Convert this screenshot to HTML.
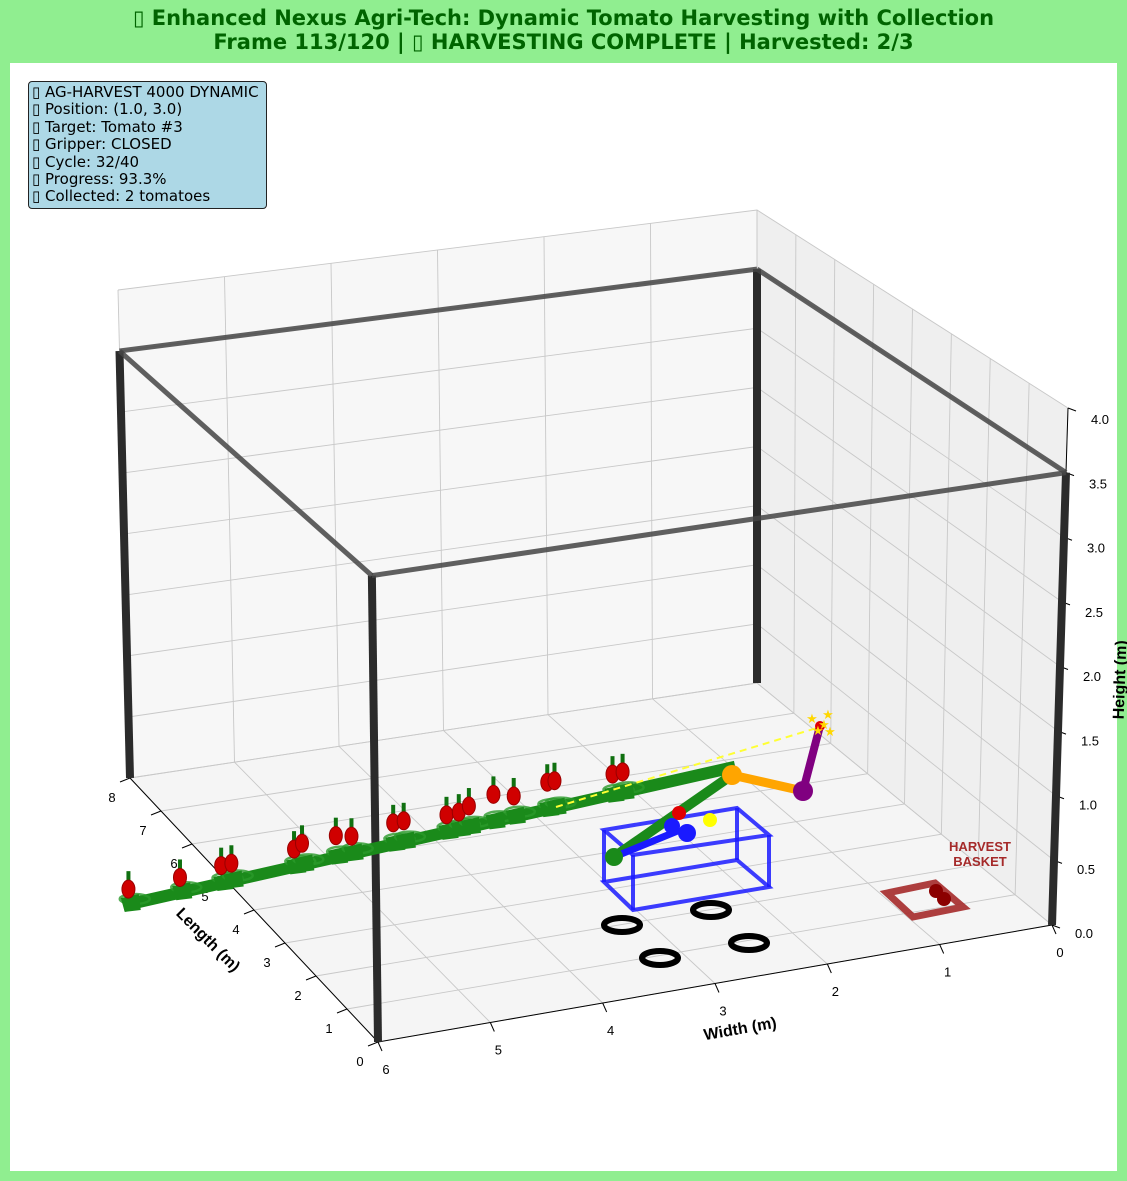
<!DOCTYPE html>
<html><head><meta charset="utf-8"><style>
html,body{margin:0;padding:0;background:#90ee90;}
body{width:1127px;height:1181px;position:relative;overflow:hidden;font-family:"Liberation Sans","DejaVu Sans",sans-serif;}
#title{position:absolute;left:0;top:6px;width:1127px;text-align:center;color:#006400;font-weight:bold;font-size:21px;line-height:24px;font-family:"DejaVu Sans","Liberation Sans",sans-serif;}
#plot{position:absolute;left:10px;top:63px;width:1107px;height:1108px;background:#fff;}
#info{position:absolute;left:28px;top:81px;width:239px;height:128px;background:#add8e6;border:1px solid #222;border-radius:4px;font-size:15px;line-height:17.4px;padding:2px 0 0 3px;box-sizing:border-box;font-family:"DejaVu Sans","Liberation Sans",sans-serif;color:#000;white-space:pre;}
svg{position:absolute;left:0;top:0;}
</style></head><body>
<div id="title">▯ Enhanced Nexus Agri-Tech: Dynamic Tomato Harvesting with Collection<br>Frame 113/120 | ▯ HARVESTING COMPLETE | Harvested: 2/3</div>
<div id="plot"></div>
<svg id="scene" width="1127" height="1181"></svg>
<div id="info">▯ AG-HARVEST 4000 DYNAMIC
▯ Position: (1.0, 3.0)
▯ Target: Tomato #3
▯ Gripper: CLOSED
▯ Cycle: 32/40
▯ Progress: 93.3%
▯ Collected: 2 tomatoes</div>
<script>
const widthTicks=[0,1,2,3,4,5,6];
const lengthTicks=[0,1,2,3,4,5,6,7,8];
const heightTicks=[0.0,0.5,1.0,1.5,2.0,2.5,3.0,3.5,4.0];
const tomatoWidth=[7.13,6.63,6.23,6.13,5.52,5.44,5.11,4.96,4.55,4.45,4.03,3.91,3.81,3.57,3.37,3.04,2.97,2.40,2.30];
const tomatoLength=[4.07,4.16,4.23,4.25,4.36,4.38,4.44,4.46,4.54,4.55,4.63,4.65,4.67,4.71,4.75,4.81,4.82,4.92,4.94];
const tomatoHeight=[0.3,0.3,0.32,0.32,0.32,0.35,0.35,0.32,0.35,0.35,0.32,0.32,0.35,0.4,0.35,0.4,0.4,0.35,0.35];
const frameHeight=3.5;
const rowWidth=[7.2,1.2];
const rowLen=[4.0,5.1];
const rowHeight=0.2;

const S=document.getElementById('scene');
const NS='http://www.w3.org/2000/svg';
function mk(tag,attrs,name){const e=document.createElementNS(NS,tag);for(const k in attrs)e.setAttribute(k,attrs[k]);


S.appendChild(e);return e;}
const C={'000':[1052,925],'001':[1068,408],'010':[757,683],'011':[757,210],'100':[378,1042],'101':[371,509],'110':[130,778],'111':[118,290]};
function lerp(a,b,t){return [a[0]+(b[0]-a[0])*t,a[1]+(b[1]-a[1])*t];}
function P(w,l,z){const a=w/6,b=l/8,c=z/4;
 const c00=lerp(C['000'],C['100'],a),c01=lerp(C['001'],C['101'],a),c10=lerp(C['010'],C['110'],a),c11=lerp(C['011'],C['111'],a);
 const d0=lerp(c00,c10,b),d1=lerp(c01,c11,b);return lerp(d0,d1,c);}
function pts(arr){return arr.map(p=>p.join(',')).join(' ');}
mk('polygon',{points:pts([P(6,8,0),P(0,8,0),P(0,8,4),P(6,8,4)]),fill:'#f7f7f7'},'back-pane');
mk('polygon',{points:pts([P(0,8,0),P(0,0,0),P(0,0,4),P(0,8,4)]),fill:'#efefef'},'side-pane');
mk('polygon',{points:pts([P(6,0,0),P(0,0,0),P(0,8,0),P(6,8,0)]),fill:'#f5f5f5'},'floor-pane');
const gs={stroke:'#c8c8c8','stroke-width':0.9};
widthTicks.forEach(w=>{let a=P(w,0,0),b=P(w,8,0),c=P(w,8,4);mk('polyline',Object.assign({points:pts([a,b,c]),fill:'none'},gs),'grid-line-width');});
lengthTicks.forEach(l=>{let a=P(6,l,0),b=P(0,l,0),c=P(0,l,4);mk('polyline',Object.assign({points:pts([a,b,c]),fill:'none'},gs),'grid-line-length');});
heightTicks.forEach(z=>{let a=P(6,8,z),b=P(0,8,z),c=P(0,0,z);mk('polyline',Object.assign({points:pts([a,b,c]),fill:'none'},gs),'grid-line-height');});
mk('line',{x1:P(6,0,0)[0],y1:P(6,0,0)[1],x2:P(0,0,0)[0],y2:P(0,0,0)[1],stroke:'#000','stroke-width':1},'width-axis-line');
mk('line',{x1:P(6,0,0)[0],y1:P(6,0,0)[1],x2:P(6,8,0)[0],y2:P(6,8,0)[1],stroke:'#000','stroke-width':1},'length-axis-line');
mk('line',{x1:P(0,0,0)[0],y1:P(0,0,0)[1],x2:P(0,0,4)[0],y2:P(0,0,4)[1],stroke:'#000','stroke-width':1},'height-axis-line');
widthTicks.forEach(w=>{const p=P(w,0,0);mk('line',{x1:p[0],y1:p[1],x2:p[0]+4,y2:p[1]+9,stroke:'#000','stroke-width':1},'width-tick');
 const t=mk('text',{x:p[0]+8,y:p[1]+32,'font-size':13,'text-anchor':'middle'},'width-tick-label');t.textContent=w;});
lengthTicks.forEach(l=>{const p=P(6,l,0);mk('line',{x1:p[0],y1:p[1],x2:p[0]-10,y2:p[1]+4,stroke:'#000','stroke-width':1},'length-tick');
 const t=mk('text',{x:p[0]-18,y:p[1]+24,'font-size':13,'text-anchor':'middle'},'length-tick-label');t.textContent=l;});
heightTicks.forEach(z=>{const p=P(0,0,z);mk('line',{x1:p[0],y1:p[1],x2:p[0]+8,y2:p[1]+3,stroke:'#000','stroke-width':1},'height-tick');
 const t=mk('text',{x:p[0]+32,y:933-z*128.5+5,'font-size':13,'text-anchor':'middle'},'height-tick-label');t.textContent=z.toFixed(1);});
let t;
t=mk('text',{x:740,y:1034,'font-size':16,'font-weight':'bold','text-anchor':'middle',transform:'rotate(-10 740 1028)'},'width-axis-title');t.textContent='Width (m)';
t=mk('text',{x:208,y:945,'font-size':16,'font-weight':'bold','text-anchor':'middle',transform:'rotate(45 208 940)'},'length-axis-title');t.textContent='Length (m)';
t=mk('text',{x:1125,y:680,'font-size':16,'font-weight':'bold','text-anchor':'middle',transform:'rotate(-88 1125 680)'},'height-axis-title');t.textContent='Height (m)';
const corners=[[6,8],[0,8],[0,0],[6,0]];
corners.forEach(c=>{const a=P(c[0],c[1],0),b=P(c[0],c[1],frameHeight);mk('line',{x1:a[0],y1:a[1],x2:b[0],y2:b[1],stroke:'#2b2b2b','stroke-width':8},'frame-pole');});
for(let i=0;i<4;i++){const c=corners[i],d=corners[(i+1)%4];const a=P(c[0],c[1],frameHeight),b=P(d[0],d[1],frameHeight);
 mk('line',{x1:a[0],y1:a[1],x2:b[0],y2:b[1],stroke:'#444','stroke-width':5,'stroke-opacity':0.85},'frame-beam');}
const r1=P(rowWidth[0],rowLen[0],rowHeight),r2=P(rowWidth[1],rowLen[1],rowHeight);
mk('line',{x1:r1[0],y1:r1[1],x2:r2[0],y2:r2[1],stroke:'#1a8a1a','stroke-width':12},'plant-row-stem');
tomatoWidth.forEach((w,i)=>{const p=P(w,tomatoLength[i],rowHeight);
 mk('ellipse',{cx:p[0]+6,cy:p[1]-3,rx:15,ry:5,fill:'none',stroke:'#2a9a2a','stroke-width':2.5,'stroke-opacity':0.8},'leaf-ring');
 mk('polygon',{points:pts([[p[0]-8,p[1]-4],[p[0]+10,p[1]-8],[p[0]+12,p[1]+8],[p[0]-4,p[1]+10]]),fill:'#1a8a1a'},'leaf');});
tomatoWidth.forEach((w,i)=>{const p=P(w,tomatoLength[i],tomatoHeight[i]);
 mk('rect',{x:p[0]-2,y:p[1]-18,width:4,height:11,fill:'#107010'},'tomato-stem');
 mk('ellipse',{cx:p[0],cy:p[1],rx:6.5,ry:9,fill:'#d00000',stroke:'#900','stroke-width':1},'tomato');});
mk('line',{x1:556,y1:807,x2:820,y2:727,stroke:'#ffff33','stroke-width':2,'stroke-dasharray':'7,5'},'target-laser');
mk('polygon',{points:'604,830 737,808 769,835 633,855',fill:'none',stroke:'#1a1aff','stroke-width':4,'stroke-opacity':0.85},'robot-chassis-top');
mk('polygon',{points:'604,882 737,860 769,887 633,910',fill:'none',stroke:'#1a1aff','stroke-width':4,'stroke-opacity':0.85},'robot-chassis-bottom');
[[604,830,604,882],[737,808,737,860],[769,835,769,887],[633,855,633,910]].forEach(s=>mk('line',{x1:s[0],y1:s[1],x2:s[2],y2:s[3],stroke:'#1a1aff','stroke-width':4,'stroke-opacity':0.85},'robot-chassis-post'));
[[622,925],[711,910],[660,958],[749,943]].forEach(c=>mk('ellipse',{cx:c[0],cy:c[1],rx:18,ry:7,fill:'none',stroke:'#000','stroke-width':6},'robot-wheel'));
mk('line',{x1:614,y1:857,x2:732,y2:775,stroke:'#1a8a1a','stroke-width':10},'robot-arm-base');
mk('line',{x1:614,y1:857,x2:680,y2:830,stroke:'#1a1aff','stroke-width':7},'robot-arm-link');
mk('circle',{cx:614,cy:857,r:9,fill:'#1a8a1a'},'robot-joint-base');
mk('circle',{cx:672,cy:826,r:8,fill:'#1a1aff'},'robot-joint');
mk('circle',{cx:687,cy:833,r:9,fill:'#1a1aff'},'robot-joint');
mk('circle',{cx:679,cy:813,r:7,fill:'#e00000'},'held-tomato');
mk('circle',{cx:710,cy:820,r:7,fill:'#ffff00'},'sensor-light');
mk('line',{x1:732,y1:775,x2:803,y2:791,stroke:'#ffa500','stroke-width':9},'robot-arm-upper');
mk('circle',{cx:732,cy:775,r:10,fill:'#ffa500'},'robot-joint-elbow');
mk('line',{x1:803,y1:791,x2:820,y2:726,stroke:'#800080','stroke-width':8},'robot-arm-gripper');
mk('circle',{cx:803,cy:791,r:10,fill:'#800080'},'robot-joint-wrist');
mk('circle',{cx:820,cy:726,r:5,fill:'#e00000'},'gripper-tomato');
[[812,718],[828,714],[818,730],[830,731],[824,724]].forEach(s=>{const e=mk('text',{x:s[0],y:s[1]+5,'font-size':13,fill:'#ffd700','text-anchor':'middle'},'sparkle-star');e.textContent='★';});
mk('polygon',{points:'887,893 935,883 963,907 913,917',fill:'none',stroke:'#a52a2a','stroke-width':7,'stroke-opacity':0.9},'harvest-basket');
mk('circle',{cx:936,cy:891,r:7,fill:'#8b0000'},'collected-tomato');
mk('circle',{cx:944,cy:899,r:7,fill:'#8b0000'},'collected-tomato');
t=mk('text',{x:980,y:851,'font-size':13,'font-weight':'bold',fill:'#a52a2a','text-anchor':'middle'},'basket-label');t.textContent='HARVEST';
t=mk('text',{x:980,y:866,'font-size':13,'font-weight':'bold',fill:'#a52a2a','text-anchor':'middle'},'basket-label');t.textContent='BASKET';
</script>
</body></html>
